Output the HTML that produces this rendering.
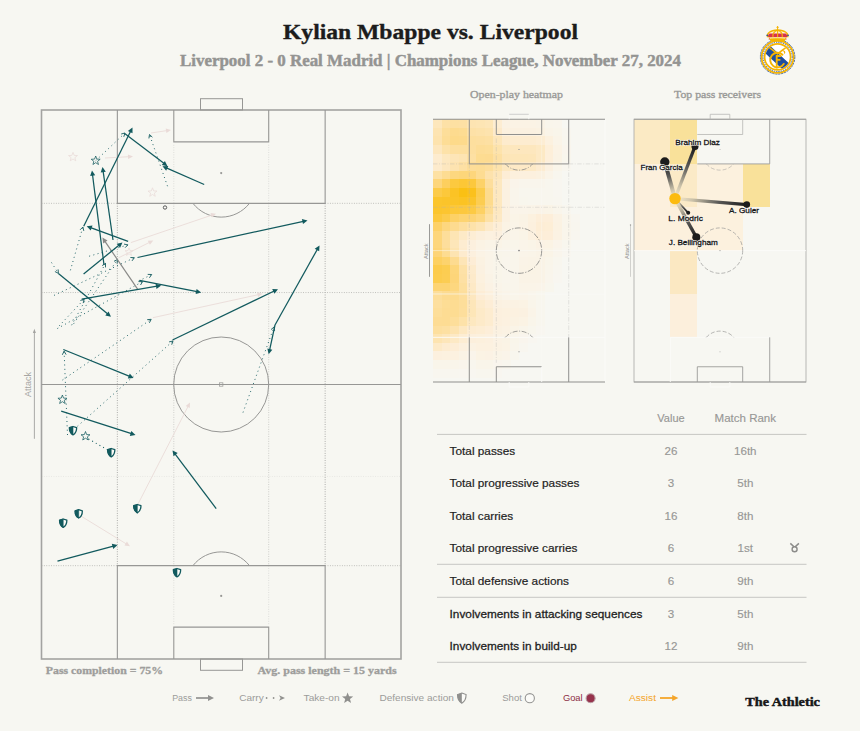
<!DOCTYPE html>
<html><head><meta charset="utf-8"><title>Kylian Mbappe vs. Liverpool</title>
<style>
html,body{margin:0;padding:0;background:#f7f7f2;}
body{width:860px;height:731px;overflow:hidden;position:relative;font-family:"Liberation Sans",sans-serif;}
svg{position:absolute;left:0;top:0;display:block}
text{font-family:"Liberation Sans",sans-serif}
.serif{font-family:"Liberation Serif",serif;font-weight:bold}
.serifr{font-family:"Liberation Serif",serif;font-weight:normal}
</style></head><body>
<svg width="860" height="731" viewBox="0 0 860 731">
<rect width="860" height="731" fill="#f7f7f2"/>

<!--HEADER-->
<text class="serif" x="430.5" y="39.2" font-size="21.5" text-anchor="middle" fill="#1c1c1c" stroke="#1c1c1c" stroke-width="0.35" textLength="295" lengthAdjust="spacingAndGlyphs">Kylian Mbappe vs. Liverpool</text>
<text class="serif" x="430.5" y="65.5" font-size="16.5" text-anchor="middle" fill="#949492" stroke="#949492" stroke-width="0.45" textLength="501" lengthAdjust="spacingAndGlyphs">Liverpool 2 - 0 Real Madrid | Champions League, November 27, 2024</text>
<!--LOGO-->
<g transform="translate(777.6,56.9)">
<circle r="17.2" fill="#ffffff" stroke="#1f4e9e" stroke-width="0.9" stroke-dasharray="2.2 0.8"/>
<circle r="16.0" fill="none" stroke="#f5b301" stroke-width="1.7"/>
<circle r="14.6" fill="none" stroke="#1f4e9e" stroke-width="0.9" stroke-dasharray="1.3 1.0"/>
<circle r="13.0" fill="#ffffff" stroke="#f5b301" stroke-width="1.7"/>
<clipPath id="crc"><circle r="12.2"/></clipPath>
<g clip-path="url(#crc)"><rect x="-20" y="-3.0" width="40" height="8.8" transform="rotate(43)" fill="#1f4e9e"/></g>
<path d="M2.4 -2.6 L9.0 3.6 L10.8 -1 L6 -6.2 Z" fill="#ffffff"/>
<path d="M-8 -9 L-5.8 -7.6 L0 -3.0 L5.8 -7.6 L8 -9" fill="none" stroke="#f5b301" stroke-width="1.6" stroke-linejoin="round"/>
<path d="M4.6 -6.4 C6.8 -6.2 7.8 -4.6 6.6 -3.4" fill="none" stroke="#f5b301" stroke-width="1.2"/>
<path d="M5.4 -4.6 A7.3 7.3 0 1 0 6.6 4.6" fill="none" stroke="#f5b301" stroke-width="1.9" stroke-linecap="round" transform="translate(-0.5,2.4)"/>
<path d="M-0.9 -1.4 V11.6 M-1.7 -0.9 H3.7 M-0.9 3.0 H2.8" fill="none" stroke="#f5b301" stroke-width="1.9"/>
</g>
<path d="M767.6 37.3 C766.2 33 770.2 30.6 777.6 30 C785 30.6 789 33 787.6 37.3 Z" fill="#fdf3d4"/>
<path d="M768.2 37.3 C767.6 35.6 768.2 34.4 769.4 33.5 H785.8 C787 34.4 787.6 35.6 787 37.3 Z" fill="#d8324c"/>
<path d="M767.6 37.3 C766.2 33 770.2 30.6 777.6 30 C785 30.6 789 33 787.6 37.3" fill="none" stroke="#f5b301" stroke-width="1.3"/>
<path d="M777.6 30 V37.3 M777.6 30.2 C773.6 31.4 772.4 33.8 773 37.3 M777.6 30.2 C781.6 31.4 782.8 33.8 782.2 37.3" fill="none" stroke="#f5b301" stroke-width="1.1"/>
<path d="M768.6 37.4 L770.6 41.2 H784.6 L786.6 37.4 Z" fill="#f5b301"/>
<path d="M769.8 38.3 C773 37.6 782.2 37.6 785.4 38.3" stroke="#fff3cf" stroke-width="0.8" fill="none"/>
<path d="M777.6 26 V30.4" stroke="#f5b301" stroke-width="1.0"/>
<path d="M776.4 27.4 H778.8" stroke="#f5b301" stroke-width="0.8"/>
<circle cx="767.2" cy="35.4" r="0.8" fill="#1f4e9e"/><circle cx="788" cy="35.4" r="0.8" fill="#1f4e9e"/>
<circle cx="769.2" cy="39" r="0.6" fill="#d8324c"/><circle cx="786" cy="39" r="0.6" fill="#d8324c"/>
<!--MAINPITCH-->
<line x1="117.35" y1="203.33" x2="117.35" y2="565.67" stroke="#9c9c9a" stroke-width="0.9" stroke-dasharray="0.9 1.5" fill="none"/>
<line x1="325.15" y1="203.33" x2="325.15" y2="565.67" stroke="#9c9c9a" stroke-width="0.9" stroke-dasharray="0.9 1.5" fill="none"/>
<line x1="173.80" y1="203.33" x2="173.80" y2="565.67" stroke="#c6c6c3" stroke-width="0.9" stroke-dasharray="0.9 1.5" fill="none"/>
<line x1="173.80" y1="144.84" x2="173.80" y2="203.33" stroke="#c6c6c3" stroke-width="0.9" stroke-dasharray="0.9 1.5" fill="none" opacity="0.6"/>
<line x1="173.80" y1="565.67" x2="173.80" y2="624.16" stroke="#c6c6c3" stroke-width="0.9" stroke-dasharray="0.9 1.5" fill="none" opacity="0.6"/>
<line x1="268.70" y1="203.33" x2="268.70" y2="565.67" stroke="#c6c6c3" stroke-width="0.9" stroke-dasharray="0.9 1.5" fill="none"/>
<line x1="268.70" y1="144.84" x2="268.70" y2="203.33" stroke="#c6c6c3" stroke-width="0.9" stroke-dasharray="0.9 1.5" fill="none" opacity="0.6"/>
<line x1="268.70" y1="565.67" x2="268.70" y2="624.16" stroke="#c6c6c3" stroke-width="0.9" stroke-dasharray="0.9 1.5" fill="none" opacity="0.6"/>
<line x1="41.5" y1="203.33" x2="117.35" y2="203.33" stroke="#b4b4b1" stroke-width="0.9" stroke-dasharray="0.9 1.5" fill="none"/>
<line x1="325.15" y1="203.33" x2="401.0" y2="203.33" stroke="#b4b4b1" stroke-width="0.9" stroke-dasharray="0.9 1.5" fill="none"/>
<line x1="41.5" y1="565.67" x2="117.35" y2="565.67" stroke="#b4b4b1" stroke-width="0.9" stroke-dasharray="0.9 1.5" fill="none"/>
<line x1="325.15" y1="565.67" x2="401.0" y2="565.67" stroke="#b4b4b1" stroke-width="0.9" stroke-dasharray="0.9 1.5" fill="none"/>
<line x1="41.5" y1="292.54" x2="401.0" y2="292.54" stroke="#b4b4b1" stroke-width="0.9" stroke-dasharray="0.9 1.5" fill="none"/>
<line x1="41.5" y1="476.46" x2="401.0" y2="476.46" stroke="#c6c6c3" stroke-width="0.9" stroke-dasharray="0.9 1.5" fill="none" opacity="0.35"/>
<rect x="41.5" y="110.0" width="359.5" height="549.0" fill="none" stroke="#a3a3a1" stroke-width="1.6"/>
<line x1="41.5" y1="384.5" x2="401.0" y2="384.5" stroke="#979795" stroke-width="1.1"/>
<path d="M117.3545 110.0 V203.33 H325.1455 V110.0" fill="none" stroke="#979795" stroke-width="1.1"/>
<path d="M173.796 110.0 V141.84199999999998 H268.704 V110.0" fill="none" stroke="#979795" stroke-width="1.1"/>
<path d="M117.3545 659.0 V565.67 H325.1455 V659.0" fill="none" stroke="#979795" stroke-width="1.1"/>
<path d="M173.796 659.0 V627.158 H268.704 V659.0" fill="none" stroke="#979795" stroke-width="1.1"/>
<rect x="200.5" y="98.7" width="42" height="11.3" fill="none" stroke="#979795" stroke-width="1"/>
<rect x="200.5" y="659" width="42" height="11.3" fill="none" stroke="#979795" stroke-width="1"/>
<circle cx="221.2" cy="384.5" r="47.5" fill="none" stroke="#979795" stroke-width="1"/>
<rect x="219.5" y="382.8" width="3.4" height="3.4" fill="none" stroke="#979795" stroke-width="0.7"/>
<circle cx="221.2" cy="173.1" r="1.1" fill="#979795"/>
<circle cx="221.2" cy="595.9" r="1.1" fill="#979795"/>
<path d="M192.9 203.3 A35.9 35.9 0 0 0 249.5 203.3" fill="none" stroke="#979795" stroke-width="1"/>
<path d="M192.9 565.7 A35.9 35.9 0 0 1 249.5 565.7" fill="none" stroke="#979795" stroke-width="1"/>
<line x1="34.4" y1="438.8" x2="34.4" y2="331" stroke="#a2a29f" stroke-width="0.9"/>
<path d="M34.4 328.8 L32.9 333 L35.9 333 Z" fill="#a2a29f"/>
<text x="31.2" y="384.5" font-size="8.6" fill="#a6a6a3" text-anchor="middle" transform="rotate(-90 31.2 384.5)" textLength="24.8" lengthAdjust="spacingAndGlyphs">Attack</text>
<!--EVENTS-->
<g><line x1="151.0" y1="133.0" x2="167.0" y2="130.6" stroke="#eadbd8" stroke-width="0.9"/><path d="M171.0 130.0 L166.4 133.0 L165.7 128.5 Z" fill="#eadbd8"/></g>
<g><line x1="105.0" y1="158.0" x2="129.0" y2="156.7" stroke="#eadbd8" stroke-width="0.9"/><path d="M133.0 156.5 L128.1 159.1 L127.9 154.5 Z" fill="#eadbd8"/></g>
<g><line x1="130.9" y1="242.6" x2="212.2" y2="215.0" stroke="#eadbd8" stroke-width="0.9"/><path d="M216.0 213.7 L212.0 217.5 L210.5 213.1 Z" fill="#eadbd8"/></g>
<g><line x1="118.4" y1="257.9" x2="149.7" y2="242.3" stroke="#eadbd8" stroke-width="0.9"/><path d="M153.3 240.5 L149.9 244.8 L147.8 240.7 Z" fill="#eadbd8"/></g>
<g><line x1="152.9" y1="317.7" x2="258.6" y2="294.6" stroke="#eadbd8" stroke-width="0.9"/><path d="M262.5 293.7 L258.1 297.0 L257.1 292.5 Z" fill="#eadbd8"/></g>
<g><line x1="137.5" y1="505.0" x2="188.2" y2="406.1" stroke="#eadbd8" stroke-width="0.9"/><path d="M190.0 402.5 L189.8 408.0 L185.7 405.9 Z" fill="#eadbd8"/></g>
<g><line x1="81.2" y1="516.2" x2="126.6" y2="544.1" stroke="#eadbd8" stroke-width="0.9"/><path d="M130.0 546.2 L124.5 545.5 L126.9 541.6 Z" fill="#eadbd8"/></g>
<polygon points="73.00,152.30 74.16,155.40 77.47,155.55 74.88,157.61 75.76,160.80 73.00,158.97 70.24,160.80 71.12,157.61 68.53,155.55 71.84,155.40" fill="none" stroke="#eadbd8" stroke-width="0.75" stroke-linejoin="miter"/>
<polygon points="152.50,187.80 153.66,190.90 156.97,191.05 154.38,193.11 155.26,196.30 152.50,194.47 149.74,196.30 150.62,193.11 148.03,191.05 151.34,190.90" fill="none" stroke="#eadbd8" stroke-width="0.75" stroke-linejoin="miter"/>
<polygon points="129.00,247.80 130.04,250.57 132.99,250.70 130.68,252.55 131.47,255.40 129.00,253.76 126.53,255.40 127.32,252.55 125.01,250.70 127.96,250.57" fill="none" stroke="#eadbd8" stroke-width="0.75" stroke-linejoin="miter"/>
<g fill="none" stroke="#125a5e"><line x1="95.7" y1="160.7" x2="125.0" y2="133.0" stroke-width="0.95" stroke-dasharray="0.95 3.4" stroke-linecap="butt"/><path d="M123.8 136.8 L125.0 133.0 L121.2 134.0" stroke-width="0.9"/></g>
<g fill="none" stroke="#125a5e"><line x1="167.5" y1="186.2" x2="149.5" y2="134.5" stroke-width="0.95" stroke-dasharray="0.95 3.4" stroke-linecap="butt"/><path d="M152.4 137.2 L149.5 134.5 L148.9 138.4" stroke-width="0.9"/></g>
<g fill="none" stroke="#125a5e"><line x1="51.5" y1="262.5" x2="58.4" y2="273.4" stroke-width="0.95" stroke-dasharray="0.95 3.4" stroke-linecap="butt"/><path d="M54.9 271.5 L58.4 273.4 L58.1 269.4" stroke-width="0.9"/></g>
<g fill="none" stroke="#125a5e"><line x1="70.4" y1="270.3" x2="82.9" y2="227.0" stroke-width="0.95" stroke-dasharray="0.95 3.4" stroke-linecap="butt"/><path d="M83.8 230.9 L82.9 227.0 L80.1 229.8" stroke-width="0.9"/></g>
<g fill="none" stroke="#125a5e"><line x1="54.0" y1="295.4" x2="134.4" y2="257.7" stroke-width="0.95" stroke-dasharray="0.95 3.4" stroke-linecap="butt"/><path d="M132.0 260.9 L134.4 257.7 L130.4 257.5" stroke-width="0.9"/></g>
<g fill="none" stroke="#125a5e"><line x1="89.2" y1="256.2" x2="127.9" y2="244.9" stroke-width="0.95" stroke-dasharray="0.95 3.4" stroke-linecap="butt"/><path d="M125.1 247.7 L127.9 244.9 L124.0 244.1" stroke-width="0.9"/></g>
<g fill="none" stroke="#125a5e"><line x1="59.1" y1="326.0" x2="84.2" y2="299.2" stroke-width="0.95" stroke-dasharray="0.95 3.4" stroke-linecap="butt"/><path d="M83.2 303.1 L84.2 299.2 L80.4 300.5" stroke-width="0.9"/></g>
<g fill="none" stroke="#125a5e"><line x1="71.6" y1="325.2" x2="105.5" y2="263.4" stroke-width="0.95" stroke-dasharray="0.95 3.4" stroke-linecap="butt"/><path d="M105.5 267.4 L105.5 263.4 L102.2 265.6" stroke-width="0.9"/></g>
<g fill="none" stroke="#125a5e"><line x1="73.7" y1="323.7" x2="117.5" y2="259.5" stroke-width="0.95" stroke-dasharray="0.95 3.4" stroke-linecap="butt"/><path d="M117.1 263.5 L117.5 259.5 L114.0 261.3" stroke-width="0.9"/></g>
<g fill="none" stroke="#125a5e"><line x1="57.4" y1="328.5" x2="142.6" y2="281.6" stroke-width="0.95" stroke-dasharray="0.95 3.4" stroke-linecap="butt"/><path d="M140.5 285.0 L142.6 281.6 L138.6 281.6" stroke-width="0.9"/></g>
<g fill="none" stroke="#125a5e"><line x1="138.7" y1="281.0" x2="151.7" y2="274.5" stroke-width="0.95" stroke-dasharray="0.95 3.4" stroke-linecap="butt"/><path d="M149.4 277.8 L151.7 274.5 L147.7 274.4" stroke-width="0.9"/></g>
<g fill="none" stroke="#125a5e"><line x1="62.5" y1="380.0" x2="151.2" y2="319.3" stroke-width="0.95" stroke-dasharray="0.95 3.4" stroke-linecap="butt"/><path d="M149.4 322.8 L151.2 319.3 L147.2 319.7" stroke-width="0.9"/></g>
<g fill="none" stroke="#125a5e"><line x1="77.5" y1="426.2" x2="173.0" y2="341.0" stroke-width="0.95" stroke-dasharray="0.95 3.4" stroke-linecap="butt"/><path d="M171.7 344.7 L173.0 341.0 L169.1 341.9" stroke-width="0.9"/></g>
<g fill="none" stroke="#125a5e"><line x1="67.5" y1="435.0" x2="64.1" y2="351.2" stroke-width="0.95" stroke-dasharray="0.95 3.4" stroke-linecap="butt"/><path d="M66.1 354.6 L64.1 351.2 L62.3 354.8" stroke-width="0.9"/></g>
<g fill="none" stroke="#125a5e"><line x1="243.0" y1="412.5" x2="274.0" y2="327.0" stroke-width="0.95" stroke-dasharray="0.95 3.4" stroke-linecap="butt"/><path d="M274.6 330.9 L274.0 327.0 L271.0 329.6" stroke-width="0.9"/></g>
<line x1="88.5" y1="439" x2="107" y2="449.5" stroke="#125a5e" stroke-width="1.05" stroke-dasharray="1.0 3.2"/>
<g><line x1="137.6" y1="289.1" x2="104.8" y2="241.1" stroke="#8a8a88" stroke-width="1.2"/><path d="M102.4 237.6 L107.5 240.4 L103.2 243.4 Z" fill="#8a8a88"/></g>
<g><line x1="83.7" y1="226.2" x2="130.6" y2="131.3" stroke="#125a5e" stroke-width="1.25"/><path d="M132.5 127.5 L132.5 133.3 L127.9 131.0 Z" fill="#125a5e"/></g>
<g><line x1="125.0" y1="133.7" x2="164.2" y2="163.6" stroke="#125a5e" stroke-width="1.25"/><path d="M167.5 166.2 L161.8 165.1 L164.9 161.0 Z" fill="#125a5e"/></g>
<g><line x1="204.2" y1="184.5" x2="166.3" y2="167.9" stroke="#125a5e" stroke-width="1.25"/><path d="M162.5 166.2 L168.3 165.9 L166.2 170.7 Z" fill="#125a5e"/></g>
<g><line x1="104.0" y1="265.0" x2="92.5" y2="174.7" stroke="#125a5e" stroke-width="1.25"/><path d="M92.0 170.5 L95.2 175.3 L90.1 176.0 Z" fill="#125a5e"/></g>
<g><line x1="113.0" y1="240.0" x2="103.1" y2="171.2" stroke="#125a5e" stroke-width="1.25"/><path d="M102.5 167.0 L105.8 171.8 L100.7 172.5 Z" fill="#125a5e"/></g>
<g><line x1="128.1" y1="241.4" x2="90.6" y2="227.7" stroke="#125a5e" stroke-width="1.25"/><path d="M86.7 226.3 L92.5 225.6 L90.7 230.5 Z" fill="#125a5e"/></g>
<g><line x1="137.5" y1="257.5" x2="303.4" y2="221.4" stroke="#125a5e" stroke-width="1.25"/><path d="M307.5 220.5 L303.0 224.1 L301.9 219.1 Z" fill="#125a5e"/></g>
<g><line x1="83.6" y1="274.0" x2="119.2" y2="245.0" stroke="#125a5e" stroke-width="1.25"/><path d="M122.5 242.4 L120.1 247.7 L116.8 243.7 Z" fill="#125a5e"/></g>
<g><line x1="58.4" y1="273.4" x2="107.8" y2="314.1" stroke="#125a5e" stroke-width="1.25"/><path d="M111.0 316.8 L105.3 315.5 L108.6 311.5 Z" fill="#125a5e"/></g>
<g><line x1="81.7" y1="299.2" x2="157.1" y2="286.2" stroke="#125a5e" stroke-width="1.25"/><path d="M161.2 285.5 L156.5 288.9 L155.6 283.8 Z" fill="#125a5e"/></g>
<g><line x1="139.5" y1="280.3" x2="197.1" y2="291.7" stroke="#125a5e" stroke-width="1.25"/><path d="M201.2 292.5 L195.6 294.0 L196.6 288.9 Z" fill="#125a5e"/></g>
<g><line x1="172.5" y1="340.0" x2="274.2" y2="291.0" stroke="#125a5e" stroke-width="1.25"/><path d="M278.0 289.2 L274.4 293.8 L272.2 289.1 Z" fill="#125a5e"/></g>
<g><line x1="275.0" y1="325.0" x2="317.4" y2="249.2" stroke="#125a5e" stroke-width="1.25"/><path d="M319.5 245.5 L319.2 251.3 L314.7 248.8 Z" fill="#125a5e"/></g>
<g><line x1="275.0" y1="325.0" x2="269.6" y2="350.1" stroke="#125a5e" stroke-width="1.25"/><path d="M268.7 354.2 L267.3 348.6 L272.3 349.7 Z" fill="#125a5e"/></g>
<g><line x1="63.3" y1="349.5" x2="129.7" y2="376.4" stroke="#125a5e" stroke-width="1.25"/><path d="M133.6 378.0 L127.8 378.5 L129.8 373.6 Z" fill="#125a5e"/></g>
<g><line x1="61.2" y1="411.2" x2="131.5" y2="433.7" stroke="#125a5e" stroke-width="1.25"/><path d="M135.5 435.0 L129.8 435.9 L131.3 430.9 Z" fill="#125a5e"/></g>
<g><line x1="216.2" y1="508.7" x2="175.0" y2="453.9" stroke="#125a5e" stroke-width="1.25"/><path d="M172.5 450.5 L177.7 453.1 L173.5 456.2 Z" fill="#125a5e"/></g>
<g><line x1="57.5" y1="561.2" x2="113.4" y2="546.1" stroke="#125a5e" stroke-width="1.25"/><path d="M117.5 545.0 L113.2 548.9 L111.8 543.8 Z" fill="#125a5e"/></g>
<polygon points="95.70,156.00 96.86,159.10 100.17,159.25 97.58,161.31 98.46,164.50 95.70,162.67 92.94,164.50 93.82,161.31 91.23,159.25 94.54,159.10" fill="none" stroke="#125a5e" stroke-width="0.75" stroke-linejoin="miter"/>
<polygon points="62.40,395.00 63.56,398.10 66.87,398.25 64.28,400.31 65.16,403.50 62.40,401.67 59.64,403.50 60.52,400.31 57.93,398.25 61.24,398.10" fill="none" stroke="#125a5e" stroke-width="0.75" stroke-linejoin="miter"/>
<polygon points="85.50,431.50 86.66,434.60 89.97,434.75 87.38,436.81 88.26,440.00 85.50,438.17 82.74,440.00 83.62,436.81 81.03,434.75 84.34,434.60" fill="none" stroke="#125a5e" stroke-width="0.75" stroke-linejoin="miter"/>
<path d="M73.00 426.50 L76.65 427.72 C76.65 431.81 74.91 433.81 73.00 434.85 C71.09 433.81 69.35 431.81 69.35 427.72 Z" fill="#fbfbf8" stroke="#125a5e" stroke-width="1.3" stroke-linejoin="round"/><path d="M73.00 426.50 L73.00 434.85 C71.09 433.81 69.35 431.81 69.35 427.72 Z" fill="#125a5e" stroke="#125a5e" stroke-width="0.6"/>
<path d="M111.20 448.50 L114.85 449.72 C114.85 453.81 113.11 455.81 111.20 456.85 C109.29 455.81 107.55 453.81 107.55 449.72 Z" fill="#fbfbf8" stroke="#125a5e" stroke-width="1.3" stroke-linejoin="round"/><path d="M111.20 448.50 L111.20 456.85 C109.29 455.81 107.55 453.81 107.55 449.72 Z" fill="#125a5e" stroke="#125a5e" stroke-width="0.6"/>
<path d="M137.30 504.50 L140.95 505.72 C140.95 509.81 139.21 511.81 137.30 512.85 C135.39 511.81 133.65 509.81 133.65 505.72 Z" fill="#fbfbf8" stroke="#125a5e" stroke-width="1.3" stroke-linejoin="round"/><path d="M137.30 504.50 L137.30 512.85 C135.39 511.81 133.65 509.81 133.65 505.72 Z" fill="#125a5e" stroke="#125a5e" stroke-width="0.6"/>
<path d="M78.70 509.70 L82.35 510.92 C82.35 515.00 80.61 517.01 78.70 518.05 C76.79 517.01 75.05 515.00 75.05 510.92 Z" fill="#fbfbf8" stroke="#125a5e" stroke-width="1.3" stroke-linejoin="round"/><path d="M78.70 509.70 L78.70 518.05 C76.79 517.01 75.05 515.00 75.05 510.92 Z" fill="#125a5e" stroke="#125a5e" stroke-width="0.6"/>
<path d="M63.20 519.00 L66.85 520.22 C66.85 524.30 65.11 526.31 63.20 527.35 C61.29 526.31 59.55 524.30 59.55 520.22 Z" fill="#fbfbf8" stroke="#125a5e" stroke-width="1.3" stroke-linejoin="round"/><path d="M63.20 519.00 L63.20 527.35 C61.29 526.31 59.55 524.30 59.55 520.22 Z" fill="#125a5e" stroke="#125a5e" stroke-width="0.6"/>
<path d="M177.00 568.50 L180.65 569.72 C180.65 573.80 178.91 575.81 177.00 576.85 C175.09 575.81 173.35 573.80 173.35 569.72 Z" fill="#fbfbf8" stroke="#125a5e" stroke-width="1.3" stroke-linejoin="round"/><path d="M177.00 568.50 L177.00 576.85 C175.09 575.81 173.35 573.80 173.35 569.72 Z" fill="#125a5e" stroke="#125a5e" stroke-width="0.6"/>
<circle cx="165" cy="207.5" r="1.7" fill="#fbfbf8" stroke="#333" stroke-width="0.8"/>
<!--/EVENTS-->
<!--HEATMAP-->
<clipPath id="hclip"><rect x="433.0" y="119.25" width="172.0" height="262.75"/></clipPath>
<g clip-path="url(#hclip)" shape-rendering="crispEdges">
<rect x="433.00" y="119.25" width="8.90" height="8.90" fill="rgb(253, 231, 188)"/>
<rect x="441.60" y="119.25" width="8.90" height="8.90" fill="rgb(253, 225, 167)"/>
<rect x="450.20" y="119.25" width="8.90" height="8.90" fill="rgb(253, 224, 162)"/>
<rect x="458.80" y="119.25" width="8.90" height="8.90" fill="rgb(253, 224, 164)"/>
<rect x="467.40" y="119.25" width="8.90" height="8.90" fill="rgb(253, 228, 178)"/>
<rect x="476.00" y="119.25" width="8.90" height="8.90" fill="rgb(253, 229, 180)"/>
<rect x="484.60" y="119.25" width="8.90" height="8.90" fill="rgb(253, 230, 184)"/>
<rect x="493.20" y="119.25" width="8.90" height="8.90" fill="rgb(253, 237, 210)"/>
<rect x="501.80" y="119.25" width="8.90" height="8.90" fill="rgb(251, 242, 227)"/>
<rect x="510.40" y="119.25" width="8.90" height="8.90" fill="rgb(251, 243, 229)"/>
<rect x="519.00" y="119.25" width="8.90" height="8.90" fill="rgb(251, 243, 229)"/>
<rect x="527.60" y="119.25" width="8.90" height="8.90" fill="rgb(251, 243, 229)"/>
<rect x="536.20" y="119.25" width="8.90" height="8.90" fill="rgb(250, 243, 230)"/>
<rect x="544.80" y="119.25" width="8.90" height="8.90" fill="rgb(249, 245, 235)"/>
<rect x="553.40" y="119.25" width="8.90" height="8.90" fill="rgb(249, 245, 236)"/>
<rect x="433.00" y="127.85" width="8.90" height="8.90" fill="rgb(253, 228, 178)"/>
<rect x="441.60" y="127.85" width="8.90" height="8.90" fill="rgb(253, 222, 154)"/>
<rect x="450.20" y="127.85" width="8.90" height="8.90" fill="rgb(253, 219, 143)"/>
<rect x="458.80" y="127.85" width="8.90" height="8.90" fill="rgb(253, 220, 146)"/>
<rect x="467.40" y="127.85" width="8.90" height="8.90" fill="rgb(253, 225, 167)"/>
<rect x="476.00" y="127.85" width="8.90" height="8.90" fill="rgb(253, 226, 170)"/>
<rect x="484.60" y="127.85" width="8.90" height="8.90" fill="rgb(253, 227, 174)"/>
<rect x="493.20" y="127.85" width="8.90" height="8.90" fill="rgb(253, 234, 203)"/>
<rect x="501.80" y="127.85" width="8.90" height="8.90" fill="rgb(252, 241, 223)"/>
<rect x="510.40" y="127.85" width="8.90" height="8.90" fill="rgb(251, 241, 225)"/>
<rect x="519.00" y="127.85" width="8.90" height="8.90" fill="rgb(251, 241, 225)"/>
<rect x="527.60" y="127.85" width="8.90" height="8.90" fill="rgb(251, 241, 225)"/>
<rect x="536.20" y="127.85" width="8.90" height="8.90" fill="rgb(251, 242, 226)"/>
<rect x="544.80" y="127.85" width="8.90" height="8.90" fill="rgb(250, 244, 232)"/>
<rect x="553.40" y="127.85" width="8.90" height="8.90" fill="rgb(249, 245, 234)"/>
<rect x="562.00" y="127.85" width="8.90" height="8.90" fill="rgb(248, 246, 239)"/>
<rect x="433.00" y="136.45" width="8.90" height="8.90" fill="rgb(253, 227, 174)"/>
<rect x="441.60" y="136.45" width="8.90" height="8.90" fill="rgb(253, 221, 150)"/>
<rect x="450.20" y="136.45" width="8.90" height="8.90" fill="rgb(253, 218, 138)"/>
<rect x="458.80" y="136.45" width="8.90" height="8.90" fill="rgb(253, 218, 140)"/>
<rect x="467.40" y="136.45" width="8.90" height="8.90" fill="rgb(253, 223, 158)"/>
<rect x="476.00" y="136.45" width="8.90" height="8.90" fill="rgb(253, 223, 160)"/>
<rect x="484.60" y="136.45" width="8.90" height="8.90" fill="rgb(253, 224, 163)"/>
<rect x="493.20" y="136.45" width="8.90" height="8.90" fill="rgb(253, 230, 186)"/>
<rect x="501.80" y="136.45" width="8.90" height="8.90" fill="rgb(253, 235, 205)"/>
<rect x="510.40" y="136.45" width="8.90" height="8.90" fill="rgb(253, 236, 208)"/>
<rect x="519.00" y="136.45" width="8.90" height="8.90" fill="rgb(253, 236, 208)"/>
<rect x="527.60" y="136.45" width="8.90" height="8.90" fill="rgb(253, 236, 208)"/>
<rect x="536.20" y="136.45" width="8.90" height="8.90" fill="rgb(253, 237, 211)"/>
<rect x="544.80" y="136.45" width="8.90" height="8.90" fill="rgb(252, 241, 223)"/>
<rect x="553.40" y="136.45" width="8.90" height="8.90" fill="rgb(250, 244, 232)"/>
<rect x="562.00" y="136.45" width="8.90" height="8.90" fill="rgb(248, 246, 238)"/>
<rect x="433.00" y="145.05" width="8.90" height="8.90" fill="rgb(253, 231, 190)"/>
<rect x="441.60" y="145.05" width="8.90" height="8.90" fill="rgb(253, 226, 169)"/>
<rect x="450.20" y="145.05" width="8.90" height="8.90" fill="rgb(253, 223, 159)"/>
<rect x="458.80" y="145.05" width="8.90" height="8.90" fill="rgb(253, 223, 158)"/>
<rect x="467.40" y="145.05" width="8.90" height="8.90" fill="rgb(253, 223, 159)"/>
<rect x="476.00" y="145.05" width="8.90" height="8.90" fill="rgb(253, 221, 151)"/>
<rect x="484.60" y="145.05" width="8.90" height="8.90" fill="rgb(253, 222, 153)"/>
<rect x="493.20" y="145.05" width="8.90" height="8.90" fill="rgb(253, 227, 172)"/>
<rect x="501.80" y="145.05" width="8.90" height="8.90" fill="rgb(253, 231, 188)"/>
<rect x="510.40" y="145.05" width="8.90" height="8.90" fill="rgb(253, 231, 190)"/>
<rect x="519.00" y="145.05" width="8.90" height="8.90" fill="rgb(253, 231, 190)"/>
<rect x="527.60" y="145.05" width="8.90" height="8.90" fill="rgb(253, 231, 190)"/>
<rect x="536.20" y="145.05" width="8.90" height="8.90" fill="rgb(253, 233, 196)"/>
<rect x="544.80" y="145.05" width="8.90" height="8.90" fill="rgb(253, 239, 217)"/>
<rect x="553.40" y="145.05" width="8.90" height="8.90" fill="rgb(251, 243, 229)"/>
<rect x="562.00" y="145.05" width="8.90" height="8.90" fill="rgb(249, 245, 237)"/>
<rect x="433.00" y="153.65" width="8.90" height="8.90" fill="rgb(253, 236, 207)"/>
<rect x="441.60" y="153.65" width="8.90" height="8.90" fill="rgb(253, 232, 192)"/>
<rect x="450.20" y="153.65" width="8.90" height="8.90" fill="rgb(253, 229, 183)"/>
<rect x="458.80" y="153.65" width="8.90" height="8.90" fill="rgb(253, 228, 178)"/>
<rect x="467.40" y="153.65" width="8.90" height="8.90" fill="rgb(253, 224, 163)"/>
<rect x="476.00" y="153.65" width="8.90" height="8.90" fill="rgb(253, 220, 145)"/>
<rect x="484.60" y="153.65" width="8.90" height="8.90" fill="rgb(253, 219, 145)"/>
<rect x="493.20" y="153.65" width="8.90" height="8.90" fill="rgb(253, 224, 163)"/>
<rect x="501.80" y="153.65" width="8.90" height="8.90" fill="rgb(253, 229, 182)"/>
<rect x="510.40" y="153.65" width="8.90" height="8.90" fill="rgb(253, 230, 184)"/>
<rect x="519.00" y="153.65" width="8.90" height="8.90" fill="rgb(253, 230, 184)"/>
<rect x="527.60" y="153.65" width="8.90" height="8.90" fill="rgb(253, 230, 185)"/>
<rect x="536.20" y="153.65" width="8.90" height="8.90" fill="rgb(253, 233, 196)"/>
<rect x="544.80" y="153.65" width="8.90" height="8.90" fill="rgb(253, 239, 218)"/>
<rect x="553.40" y="153.65" width="8.90" height="8.90" fill="rgb(250, 243, 229)"/>
<rect x="562.00" y="153.65" width="8.90" height="8.90" fill="rgb(248, 246, 237)"/>
<rect x="433.00" y="162.25" width="8.90" height="8.90" fill="rgb(253, 235, 204)"/>
<rect x="441.60" y="162.25" width="8.90" height="8.90" fill="rgb(253, 231, 191)"/>
<rect x="450.20" y="162.25" width="8.90" height="8.90" fill="rgb(253, 227, 176)"/>
<rect x="458.80" y="162.25" width="8.90" height="8.90" fill="rgb(253, 224, 164)"/>
<rect x="467.40" y="162.25" width="8.90" height="8.90" fill="rgb(253, 221, 152)"/>
<rect x="476.00" y="162.25" width="8.90" height="8.90" fill="rgb(253, 221, 149)"/>
<rect x="484.60" y="162.25" width="8.90" height="8.90" fill="rgb(253, 222, 155)"/>
<rect x="493.20" y="162.25" width="8.90" height="8.90" fill="rgb(253, 227, 172)"/>
<rect x="501.80" y="162.25" width="8.90" height="8.90" fill="rgb(253, 232, 193)"/>
<rect x="510.40" y="162.25" width="8.90" height="8.90" fill="rgb(253, 233, 198)"/>
<rect x="519.00" y="162.25" width="8.90" height="8.90" fill="rgb(253, 233, 198)"/>
<rect x="527.60" y="162.25" width="8.90" height="8.90" fill="rgb(253, 234, 199)"/>
<rect x="536.20" y="162.25" width="8.90" height="8.90" fill="rgb(253, 236, 209)"/>
<rect x="544.80" y="162.25" width="8.90" height="8.90" fill="rgb(251, 241, 225)"/>
<rect x="553.40" y="162.25" width="8.90" height="8.90" fill="rgb(249, 245, 234)"/>
<rect x="562.00" y="162.25" width="8.90" height="8.90" fill="rgb(248, 246, 239)"/>
<rect x="433.00" y="170.85" width="8.90" height="8.90" fill="rgb(253, 225, 164)"/>
<rect x="441.60" y="170.85" width="8.90" height="8.90" fill="rgb(253, 220, 146)"/>
<rect x="450.20" y="170.85" width="8.90" height="8.90" fill="rgb(253, 215, 127)"/>
<rect x="458.80" y="170.85" width="8.90" height="8.90" fill="rgb(253, 214, 122)"/>
<rect x="467.40" y="170.85" width="8.90" height="8.90" fill="rgb(253, 214, 124)"/>
<rect x="476.00" y="170.85" width="8.90" height="8.90" fill="rgb(253, 220, 146)"/>
<rect x="484.60" y="170.85" width="8.90" height="8.90" fill="rgb(253, 226, 172)"/>
<rect x="493.20" y="170.85" width="8.90" height="8.90" fill="rgb(253, 230, 186)"/>
<rect x="501.80" y="170.85" width="8.90" height="8.90" fill="rgb(253, 237, 213)"/>
<rect x="510.40" y="170.85" width="8.90" height="8.90" fill="rgb(252, 240, 221)"/>
<rect x="519.00" y="170.85" width="8.90" height="8.90" fill="rgb(252, 240, 222)"/>
<rect x="527.60" y="170.85" width="8.90" height="8.90" fill="rgb(252, 240, 222)"/>
<rect x="536.20" y="170.85" width="8.90" height="8.90" fill="rgb(251, 241, 224)"/>
<rect x="544.80" y="170.85" width="8.90" height="8.90" fill="rgb(250, 244, 232)"/>
<rect x="553.40" y="170.85" width="8.90" height="8.90" fill="rgb(248, 246, 238)"/>
<rect x="433.00" y="179.45" width="8.90" height="8.90" fill="rgb(253, 214, 124)"/>
<rect x="441.60" y="179.45" width="8.90" height="8.90" fill="rgb(253, 207, 94)"/>
<rect x="450.20" y="179.45" width="8.90" height="8.90" fill="rgb(252, 201, 63)"/>
<rect x="458.80" y="179.45" width="8.90" height="8.90" fill="rgb(252, 199, 54)"/>
<rect x="467.40" y="179.45" width="8.90" height="8.90" fill="rgb(252, 200, 61)"/>
<rect x="476.00" y="179.45" width="8.90" height="8.90" fill="rgb(253, 210, 104)"/>
<rect x="484.60" y="179.45" width="8.90" height="8.90" fill="rgb(253, 222, 156)"/>
<rect x="493.20" y="179.45" width="8.90" height="8.90" fill="rgb(253, 232, 192)"/>
<rect x="501.80" y="179.45" width="8.90" height="8.90" fill="rgb(252, 241, 224)"/>
<rect x="510.40" y="179.45" width="8.90" height="8.90" fill="rgb(250, 244, 234)"/>
<rect x="519.00" y="179.45" width="8.90" height="8.90" fill="rgb(249, 245, 236)"/>
<rect x="527.60" y="179.45" width="8.90" height="8.90" fill="rgb(249, 245, 236)"/>
<rect x="536.20" y="179.45" width="8.90" height="8.90" fill="rgb(249, 245, 236)"/>
<rect x="544.80" y="179.45" width="8.90" height="8.90" fill="rgb(248, 246, 238)"/>
<rect x="553.40" y="179.45" width="8.90" height="8.90" fill="rgb(248, 246, 240)"/>
<rect x="433.00" y="188.05" width="8.90" height="8.90" fill="rgb(252, 203, 73)"/>
<rect x="441.60" y="188.05" width="8.90" height="8.90" fill="rgb(252, 200, 59)"/>
<rect x="450.20" y="188.05" width="8.90" height="8.90" fill="rgb(251, 195, 37)"/>
<rect x="458.80" y="188.05" width="8.90" height="8.90" fill="rgb(250, 192, 20)"/>
<rect x="467.40" y="188.05" width="8.90" height="8.90" fill="rgb(251, 193, 28)"/>
<rect x="476.00" y="188.05" width="8.90" height="8.90" fill="rgb(252, 204, 76)"/>
<rect x="484.60" y="188.05" width="8.90" height="8.90" fill="rgb(253, 219, 142)"/>
<rect x="493.20" y="188.05" width="8.90" height="8.90" fill="rgb(253, 232, 192)"/>
<rect x="501.80" y="188.05" width="8.90" height="8.90" fill="rgb(251, 241, 225)"/>
<rect x="510.40" y="188.05" width="8.90" height="8.90" fill="rgb(249, 245, 235)"/>
<rect x="519.00" y="188.05" width="8.90" height="8.90" fill="rgb(248, 246, 238)"/>
<rect x="527.60" y="188.05" width="8.90" height="8.90" fill="rgb(248, 246, 238)"/>
<rect x="536.20" y="188.05" width="8.90" height="8.90" fill="rgb(248, 246, 238)"/>
<rect x="544.80" y="188.05" width="8.90" height="8.90" fill="rgb(248, 246, 238)"/>
<rect x="553.40" y="188.05" width="8.90" height="8.90" fill="rgb(248, 246, 240)"/>
<rect x="433.00" y="196.65" width="8.90" height="8.90" fill="rgb(251, 197, 44)"/>
<rect x="441.60" y="196.65" width="8.90" height="8.90" fill="rgb(251, 196, 42)"/>
<rect x="450.20" y="196.65" width="8.90" height="8.90" fill="rgb(251, 196, 40)"/>
<rect x="458.80" y="196.65" width="8.90" height="8.90" fill="rgb(251, 195, 35)"/>
<rect x="467.40" y="196.65" width="8.90" height="8.90" fill="rgb(251, 196, 42)"/>
<rect x="476.00" y="196.65" width="8.90" height="8.90" fill="rgb(252, 205, 82)"/>
<rect x="484.60" y="196.65" width="8.90" height="8.90" fill="rgb(253, 219, 141)"/>
<rect x="493.20" y="196.65" width="8.90" height="8.90" fill="rgb(253, 232, 192)"/>
<rect x="501.80" y="196.65" width="8.90" height="8.90" fill="rgb(251, 241, 225)"/>
<rect x="510.40" y="196.65" width="8.90" height="8.90" fill="rgb(249, 245, 235)"/>
<rect x="519.00" y="196.65" width="8.90" height="8.90" fill="rgb(248, 246, 237)"/>
<rect x="527.60" y="196.65" width="8.90" height="8.90" fill="rgb(248, 246, 238)"/>
<rect x="536.20" y="196.65" width="8.90" height="8.90" fill="rgb(248, 246, 238)"/>
<rect x="544.80" y="196.65" width="8.90" height="8.90" fill="rgb(248, 246, 238)"/>
<rect x="553.40" y="196.65" width="8.90" height="8.90" fill="rgb(248, 246, 239)"/>
<rect x="433.00" y="205.25" width="8.90" height="8.90" fill="rgb(251, 197, 45)"/>
<rect x="441.60" y="205.25" width="8.90" height="8.90" fill="rgb(252, 197, 48)"/>
<rect x="450.20" y="205.25" width="8.90" height="8.90" fill="rgb(252, 200, 58)"/>
<rect x="458.80" y="205.25" width="8.90" height="8.90" fill="rgb(252, 200, 62)"/>
<rect x="467.40" y="205.25" width="8.90" height="8.90" fill="rgb(252, 202, 68)"/>
<rect x="476.00" y="205.25" width="8.90" height="8.90" fill="rgb(253, 209, 100)"/>
<rect x="484.60" y="205.25" width="8.90" height="8.90" fill="rgb(253, 221, 150)"/>
<rect x="493.20" y="205.25" width="8.90" height="8.90" fill="rgb(253, 232, 193)"/>
<rect x="501.80" y="205.25" width="8.90" height="8.90" fill="rgb(251, 241, 225)"/>
<rect x="510.40" y="205.25" width="8.90" height="8.90" fill="rgb(250, 244, 233)"/>
<rect x="519.00" y="205.25" width="8.90" height="8.90" fill="rgb(250, 244, 233)"/>
<rect x="527.60" y="205.25" width="8.90" height="8.90" fill="rgb(250, 244, 232)"/>
<rect x="536.20" y="205.25" width="8.90" height="8.90" fill="rgb(250, 243, 231)"/>
<rect x="544.80" y="205.25" width="8.90" height="8.90" fill="rgb(250, 244, 231)"/>
<rect x="553.40" y="205.25" width="8.90" height="8.90" fill="rgb(249, 245, 235)"/>
<rect x="562.00" y="205.25" width="8.90" height="8.90" fill="rgb(248, 246, 239)"/>
<rect x="433.00" y="213.85" width="8.90" height="8.90" fill="rgb(252, 200, 60)"/>
<rect x="441.60" y="213.85" width="8.90" height="8.90" fill="rgb(252, 203, 75)"/>
<rect x="450.20" y="213.85" width="8.90" height="8.90" fill="rgb(253, 209, 102)"/>
<rect x="458.80" y="213.85" width="8.90" height="8.90" fill="rgb(253, 212, 113)"/>
<rect x="467.40" y="213.85" width="8.90" height="8.90" fill="rgb(253, 212, 116)"/>
<rect x="476.00" y="213.85" width="8.90" height="8.90" fill="rgb(253, 216, 130)"/>
<rect x="484.60" y="213.85" width="8.90" height="8.90" fill="rgb(253, 225, 166)"/>
<rect x="493.20" y="213.85" width="8.90" height="8.90" fill="rgb(253, 233, 197)"/>
<rect x="501.80" y="213.85" width="8.90" height="8.90" fill="rgb(251, 241, 225)"/>
<rect x="510.40" y="213.85" width="8.90" height="8.90" fill="rgb(250, 244, 231)"/>
<rect x="519.00" y="213.85" width="8.90" height="8.90" fill="rgb(250, 243, 229)"/>
<rect x="527.60" y="213.85" width="8.90" height="8.90" fill="rgb(252, 241, 223)"/>
<rect x="536.20" y="213.85" width="8.90" height="8.90" fill="rgb(253, 238, 217)"/>
<rect x="544.80" y="213.85" width="8.90" height="8.90" fill="rgb(253, 238, 217)"/>
<rect x="553.40" y="213.85" width="8.90" height="8.90" fill="rgb(251, 242, 227)"/>
<rect x="562.00" y="213.85" width="8.90" height="8.90" fill="rgb(249, 245, 235)"/>
<rect x="570.60" y="213.85" width="8.90" height="8.90" fill="rgb(248, 246, 239)"/>
<rect x="433.00" y="222.45" width="8.90" height="8.90" fill="rgb(253, 209, 103)"/>
<rect x="441.60" y="222.45" width="8.90" height="8.90" fill="rgb(253, 215, 127)"/>
<rect x="450.20" y="222.45" width="8.90" height="8.90" fill="rgb(253, 219, 144)"/>
<rect x="458.80" y="222.45" width="8.90" height="8.90" fill="rgb(253, 223, 159)"/>
<rect x="467.40" y="222.45" width="8.90" height="8.90" fill="rgb(253, 226, 170)"/>
<rect x="476.00" y="222.45" width="8.90" height="8.90" fill="rgb(253, 229, 182)"/>
<rect x="484.60" y="222.45" width="8.90" height="8.90" fill="rgb(253, 234, 202)"/>
<rect x="493.20" y="222.45" width="8.90" height="8.90" fill="rgb(253, 238, 215)"/>
<rect x="501.80" y="222.45" width="8.90" height="8.90" fill="rgb(251, 243, 228)"/>
<rect x="510.40" y="222.45" width="8.90" height="8.90" fill="rgb(250, 244, 232)"/>
<rect x="519.00" y="222.45" width="8.90" height="8.90" fill="rgb(251, 243, 229)"/>
<rect x="527.60" y="222.45" width="8.90" height="8.90" fill="rgb(252, 240, 222)"/>
<rect x="536.20" y="222.45" width="8.90" height="8.90" fill="rgb(253, 237, 213)"/>
<rect x="544.80" y="222.45" width="8.90" height="8.90" fill="rgb(253, 238, 214)"/>
<rect x="553.40" y="222.45" width="8.90" height="8.90" fill="rgb(251, 242, 226)"/>
<rect x="562.00" y="222.45" width="8.90" height="8.90" fill="rgb(249, 245, 235)"/>
<rect x="570.60" y="222.45" width="8.90" height="8.90" fill="rgb(248, 246, 238)"/>
<rect x="433.00" y="231.05" width="8.90" height="8.90" fill="rgb(253, 214, 123)"/>
<rect x="441.60" y="231.05" width="8.90" height="8.90" fill="rgb(253, 222, 154)"/>
<rect x="450.20" y="231.05" width="8.90" height="8.90" fill="rgb(253, 229, 180)"/>
<rect x="458.80" y="231.05" width="8.90" height="8.90" fill="rgb(253, 234, 199)"/>
<rect x="467.40" y="231.05" width="8.90" height="8.90" fill="rgb(253, 237, 212)"/>
<rect x="476.00" y="231.05" width="8.90" height="8.90" fill="rgb(252, 239, 220)"/>
<rect x="484.60" y="231.05" width="8.90" height="8.90" fill="rgb(252, 241, 224)"/>
<rect x="493.20" y="231.05" width="8.90" height="8.90" fill="rgb(252, 240, 223)"/>
<rect x="501.80" y="231.05" width="8.90" height="8.90" fill="rgb(250, 243, 231)"/>
<rect x="510.40" y="231.05" width="8.90" height="8.90" fill="rgb(250, 244, 233)"/>
<rect x="519.00" y="231.05" width="8.90" height="8.90" fill="rgb(250, 244, 231)"/>
<rect x="527.60" y="231.05" width="8.90" height="8.90" fill="rgb(252, 241, 224)"/>
<rect x="536.20" y="231.05" width="8.90" height="8.90" fill="rgb(253, 238, 216)"/>
<rect x="544.80" y="231.05" width="8.90" height="8.90" fill="rgb(253, 238, 217)"/>
<rect x="553.40" y="231.05" width="8.90" height="8.90" fill="rgb(251, 242, 227)"/>
<rect x="562.00" y="231.05" width="8.90" height="8.90" fill="rgb(249, 245, 235)"/>
<rect x="570.60" y="231.05" width="8.90" height="8.90" fill="rgb(248, 246, 239)"/>
<rect x="433.00" y="239.65" width="8.90" height="8.90" fill="rgb(253, 214, 124)"/>
<rect x="441.60" y="239.65" width="8.90" height="8.90" fill="rgb(253, 222, 156)"/>
<rect x="450.20" y="239.65" width="8.90" height="8.90" fill="rgb(253, 230, 185)"/>
<rect x="458.80" y="239.65" width="8.90" height="8.90" fill="rgb(253, 236, 209)"/>
<rect x="467.40" y="239.65" width="8.90" height="8.90" fill="rgb(252, 240, 222)"/>
<rect x="476.00" y="239.65" width="8.90" height="8.90" fill="rgb(251, 243, 228)"/>
<rect x="484.60" y="239.65" width="8.90" height="8.90" fill="rgb(250, 244, 231)"/>
<rect x="493.20" y="239.65" width="8.90" height="8.90" fill="rgb(250, 244, 231)"/>
<rect x="501.80" y="239.65" width="8.90" height="8.90" fill="rgb(249, 245, 234)"/>
<rect x="510.40" y="239.65" width="8.90" height="8.90" fill="rgb(249, 245, 234)"/>
<rect x="519.00" y="239.65" width="8.90" height="8.90" fill="rgb(250, 244, 233)"/>
<rect x="527.60" y="239.65" width="8.90" height="8.90" fill="rgb(250, 244, 231)"/>
<rect x="536.20" y="239.65" width="8.90" height="8.90" fill="rgb(251, 242, 228)"/>
<rect x="544.80" y="239.65" width="8.90" height="8.90" fill="rgb(251, 243, 228)"/>
<rect x="553.40" y="239.65" width="8.90" height="8.90" fill="rgb(250, 244, 234)"/>
<rect x="562.00" y="239.65" width="8.90" height="8.90" fill="rgb(248, 246, 238)"/>
<rect x="433.00" y="248.25" width="8.90" height="8.90" fill="rgb(253, 212, 118)"/>
<rect x="441.60" y="248.25" width="8.90" height="8.90" fill="rgb(253, 220, 145)"/>
<rect x="450.20" y="248.25" width="8.90" height="8.90" fill="rgb(253, 228, 177)"/>
<rect x="458.80" y="248.25" width="8.90" height="8.90" fill="rgb(253, 235, 206)"/>
<rect x="467.40" y="248.25" width="8.90" height="8.90" fill="rgb(252, 240, 222)"/>
<rect x="476.00" y="248.25" width="8.90" height="8.90" fill="rgb(251, 243, 229)"/>
<rect x="484.60" y="248.25" width="8.90" height="8.90" fill="rgb(250, 244, 232)"/>
<rect x="493.20" y="248.25" width="8.90" height="8.90" fill="rgb(249, 245, 234)"/>
<rect x="501.80" y="248.25" width="8.90" height="8.90" fill="rgb(249, 245, 235)"/>
<rect x="510.40" y="248.25" width="8.90" height="8.90" fill="rgb(249, 245, 235)"/>
<rect x="519.00" y="248.25" width="8.90" height="8.90" fill="rgb(250, 244, 233)"/>
<rect x="527.60" y="248.25" width="8.90" height="8.90" fill="rgb(250, 244, 232)"/>
<rect x="536.20" y="248.25" width="8.90" height="8.90" fill="rgb(250, 243, 230)"/>
<rect x="544.80" y="248.25" width="8.90" height="8.90" fill="rgb(250, 244, 231)"/>
<rect x="553.40" y="248.25" width="8.90" height="8.90" fill="rgb(249, 245, 236)"/>
<rect x="562.00" y="248.25" width="8.90" height="8.90" fill="rgb(248, 246, 240)"/>
<rect x="433.00" y="256.85" width="8.90" height="8.90" fill="rgb(253, 208, 96)"/>
<rect x="441.60" y="256.85" width="8.90" height="8.90" fill="rgb(253, 211, 109)"/>
<rect x="450.20" y="256.85" width="8.90" height="8.90" fill="rgb(253, 219, 144)"/>
<rect x="458.80" y="256.85" width="8.90" height="8.90" fill="rgb(253, 229, 183)"/>
<rect x="467.40" y="256.85" width="8.90" height="8.90" fill="rgb(253, 237, 214)"/>
<rect x="476.00" y="256.85" width="8.90" height="8.90" fill="rgb(251, 242, 226)"/>
<rect x="484.60" y="256.85" width="8.90" height="8.90" fill="rgb(250, 244, 232)"/>
<rect x="493.20" y="256.85" width="8.90" height="8.90" fill="rgb(249, 245, 234)"/>
<rect x="501.80" y="256.85" width="8.90" height="8.90" fill="rgb(249, 245, 236)"/>
<rect x="510.40" y="256.85" width="8.90" height="8.90" fill="rgb(249, 245, 235)"/>
<rect x="519.00" y="256.85" width="8.90" height="8.90" fill="rgb(250, 243, 231)"/>
<rect x="527.60" y="256.85" width="8.90" height="8.90" fill="rgb(250, 243, 230)"/>
<rect x="536.20" y="256.85" width="8.90" height="8.90" fill="rgb(250, 243, 230)"/>
<rect x="544.80" y="256.85" width="8.90" height="8.90" fill="rgb(249, 245, 234)"/>
<rect x="553.40" y="256.85" width="8.90" height="8.90" fill="rgb(248, 246, 238)"/>
<rect x="433.00" y="265.45" width="8.90" height="8.90" fill="rgb(252, 203, 75)"/>
<rect x="441.60" y="265.45" width="8.90" height="8.90" fill="rgb(252, 205, 81)"/>
<rect x="450.20" y="265.45" width="8.90" height="8.90" fill="rgb(253, 214, 123)"/>
<rect x="458.80" y="265.45" width="8.90" height="8.90" fill="rgb(253, 225, 167)"/>
<rect x="467.40" y="265.45" width="8.90" height="8.90" fill="rgb(253, 235, 205)"/>
<rect x="476.00" y="265.45" width="8.90" height="8.90" fill="rgb(251, 241, 225)"/>
<rect x="484.60" y="265.45" width="8.90" height="8.90" fill="rgb(250, 244, 232)"/>
<rect x="493.20" y="265.45" width="8.90" height="8.90" fill="rgb(249, 245, 234)"/>
<rect x="501.80" y="265.45" width="8.90" height="8.90" fill="rgb(249, 245, 236)"/>
<rect x="510.40" y="265.45" width="8.90" height="8.90" fill="rgb(249, 245, 235)"/>
<rect x="519.00" y="265.45" width="8.90" height="8.90" fill="rgb(250, 243, 230)"/>
<rect x="527.60" y="265.45" width="8.90" height="8.90" fill="rgb(250, 243, 229)"/>
<rect x="536.20" y="265.45" width="8.90" height="8.90" fill="rgb(250, 243, 230)"/>
<rect x="544.80" y="265.45" width="8.90" height="8.90" fill="rgb(249, 245, 235)"/>
<rect x="553.40" y="265.45" width="8.90" height="8.90" fill="rgb(248, 246, 239)"/>
<rect x="433.00" y="274.05" width="8.90" height="8.90" fill="rgb(252, 204, 77)"/>
<rect x="441.60" y="274.05" width="8.90" height="8.90" fill="rgb(252, 205, 83)"/>
<rect x="450.20" y="274.05" width="8.90" height="8.90" fill="rgb(253, 213, 121)"/>
<rect x="458.80" y="274.05" width="8.90" height="8.90" fill="rgb(253, 224, 164)"/>
<rect x="467.40" y="274.05" width="8.90" height="8.90" fill="rgb(253, 234, 202)"/>
<rect x="476.00" y="274.05" width="8.90" height="8.90" fill="rgb(252, 241, 223)"/>
<rect x="484.60" y="274.05" width="8.90" height="8.90" fill="rgb(250, 243, 230)"/>
<rect x="493.20" y="274.05" width="8.90" height="8.90" fill="rgb(249, 245, 234)"/>
<rect x="501.80" y="274.05" width="8.90" height="8.90" fill="rgb(249, 245, 236)"/>
<rect x="510.40" y="274.05" width="8.90" height="8.90" fill="rgb(249, 245, 235)"/>
<rect x="519.00" y="274.05" width="8.90" height="8.90" fill="rgb(250, 243, 230)"/>
<rect x="527.60" y="274.05" width="8.90" height="8.90" fill="rgb(250, 243, 230)"/>
<rect x="536.20" y="274.05" width="8.90" height="8.90" fill="rgb(250, 243, 230)"/>
<rect x="544.80" y="274.05" width="8.90" height="8.90" fill="rgb(249, 245, 236)"/>
<rect x="553.40" y="274.05" width="8.90" height="8.90" fill="rgb(248, 246, 240)"/>
<rect x="433.00" y="282.65" width="8.90" height="8.90" fill="rgb(253, 212, 115)"/>
<rect x="441.60" y="282.65" width="8.90" height="8.90" fill="rgb(253, 212, 114)"/>
<rect x="450.20" y="282.65" width="8.90" height="8.90" fill="rgb(253, 215, 127)"/>
<rect x="458.80" y="282.65" width="8.90" height="8.90" fill="rgb(253, 223, 158)"/>
<rect x="467.40" y="282.65" width="8.90" height="8.90" fill="rgb(253, 233, 198)"/>
<rect x="476.00" y="282.65" width="8.90" height="8.90" fill="rgb(252, 240, 220)"/>
<rect x="484.60" y="282.65" width="8.90" height="8.90" fill="rgb(251, 242, 228)"/>
<rect x="493.20" y="282.65" width="8.90" height="8.90" fill="rgb(250, 244, 233)"/>
<rect x="501.80" y="282.65" width="8.90" height="8.90" fill="rgb(249, 245, 235)"/>
<rect x="510.40" y="282.65" width="8.90" height="8.90" fill="rgb(249, 245, 235)"/>
<rect x="519.00" y="282.65" width="8.90" height="8.90" fill="rgb(250, 244, 232)"/>
<rect x="527.60" y="282.65" width="8.90" height="8.90" fill="rgb(250, 244, 232)"/>
<rect x="536.20" y="282.65" width="8.90" height="8.90" fill="rgb(250, 244, 233)"/>
<rect x="544.80" y="282.65" width="8.90" height="8.90" fill="rgb(248, 246, 237)"/>
<rect x="433.00" y="291.25" width="8.90" height="8.90" fill="rgb(253, 222, 153)"/>
<rect x="441.60" y="291.25" width="8.90" height="8.90" fill="rgb(253, 219, 144)"/>
<rect x="450.20" y="291.25" width="8.90" height="8.90" fill="rgb(253, 219, 143)"/>
<rect x="458.80" y="291.25" width="8.90" height="8.90" fill="rgb(253, 222, 156)"/>
<rect x="467.40" y="291.25" width="8.90" height="8.90" fill="rgb(253, 231, 191)"/>
<rect x="476.00" y="291.25" width="8.90" height="8.90" fill="rgb(253, 237, 214)"/>
<rect x="484.60" y="291.25" width="8.90" height="8.90" fill="rgb(252, 240, 221)"/>
<rect x="493.20" y="291.25" width="8.90" height="8.90" fill="rgb(250, 243, 230)"/>
<rect x="501.80" y="291.25" width="8.90" height="8.90" fill="rgb(250, 244, 233)"/>
<rect x="510.40" y="291.25" width="8.90" height="8.90" fill="rgb(249, 245, 234)"/>
<rect x="519.00" y="291.25" width="8.90" height="8.90" fill="rgb(250, 244, 233)"/>
<rect x="527.60" y="291.25" width="8.90" height="8.90" fill="rgb(249, 245, 235)"/>
<rect x="536.20" y="291.25" width="8.90" height="8.90" fill="rgb(248, 246, 237)"/>
<rect x="433.00" y="299.85" width="8.90" height="8.90" fill="rgb(253, 223, 158)"/>
<rect x="441.60" y="299.85" width="8.90" height="8.90" fill="rgb(253, 221, 149)"/>
<rect x="450.20" y="299.85" width="8.90" height="8.90" fill="rgb(253, 220, 146)"/>
<rect x="458.80" y="299.85" width="8.90" height="8.90" fill="rgb(253, 222, 154)"/>
<rect x="467.40" y="299.85" width="8.90" height="8.90" fill="rgb(253, 230, 185)"/>
<rect x="476.00" y="299.85" width="8.90" height="8.90" fill="rgb(253, 235, 205)"/>
<rect x="484.60" y="299.85" width="8.90" height="8.90" fill="rgb(253, 237, 214)"/>
<rect x="493.20" y="299.85" width="8.90" height="8.90" fill="rgb(251, 241, 225)"/>
<rect x="501.80" y="299.85" width="8.90" height="8.90" fill="rgb(251, 242, 227)"/>
<rect x="510.40" y="299.85" width="8.90" height="8.90" fill="rgb(251, 242, 227)"/>
<rect x="519.00" y="299.85" width="8.90" height="8.90" fill="rgb(251, 243, 228)"/>
<rect x="527.60" y="299.85" width="8.90" height="8.90" fill="rgb(249, 245, 234)"/>
<rect x="536.20" y="299.85" width="8.90" height="8.90" fill="rgb(248, 246, 238)"/>
<rect x="433.00" y="308.45" width="8.90" height="8.90" fill="rgb(253, 222, 153)"/>
<rect x="441.60" y="308.45" width="8.90" height="8.90" fill="rgb(253, 220, 147)"/>
<rect x="450.20" y="308.45" width="8.90" height="8.90" fill="rgb(253, 220, 146)"/>
<rect x="458.80" y="308.45" width="8.90" height="8.90" fill="rgb(253, 222, 156)"/>
<rect x="467.40" y="308.45" width="8.90" height="8.90" fill="rgb(253, 230, 184)"/>
<rect x="476.00" y="308.45" width="8.90" height="8.90" fill="rgb(253, 234, 200)"/>
<rect x="484.60" y="308.45" width="8.90" height="8.90" fill="rgb(253, 236, 208)"/>
<rect x="493.20" y="308.45" width="8.90" height="8.90" fill="rgb(252, 240, 222)"/>
<rect x="501.80" y="308.45" width="8.90" height="8.90" fill="rgb(252, 241, 223)"/>
<rect x="510.40" y="308.45" width="8.90" height="8.90" fill="rgb(252, 241, 224)"/>
<rect x="519.00" y="308.45" width="8.90" height="8.90" fill="rgb(251, 241, 225)"/>
<rect x="527.60" y="308.45" width="8.90" height="8.90" fill="rgb(250, 244, 232)"/>
<rect x="536.20" y="308.45" width="8.90" height="8.90" fill="rgb(248, 246, 238)"/>
<rect x="433.00" y="317.05" width="8.90" height="8.90" fill="rgb(253, 220, 148)"/>
<rect x="441.60" y="317.05" width="8.90" height="8.90" fill="rgb(253, 220, 147)"/>
<rect x="450.20" y="317.05" width="8.90" height="8.90" fill="rgb(253, 222, 154)"/>
<rect x="458.80" y="317.05" width="8.90" height="8.90" fill="rgb(253, 226, 169)"/>
<rect x="467.40" y="317.05" width="8.90" height="8.90" fill="rgb(253, 232, 192)"/>
<rect x="476.00" y="317.05" width="8.90" height="8.90" fill="rgb(253, 234, 201)"/>
<rect x="484.60" y="317.05" width="8.90" height="8.90" fill="rgb(253, 236, 208)"/>
<rect x="493.20" y="317.05" width="8.90" height="8.90" fill="rgb(252, 240, 222)"/>
<rect x="501.80" y="317.05" width="8.90" height="8.90" fill="rgb(252, 241, 224)"/>
<rect x="510.40" y="317.05" width="8.90" height="8.90" fill="rgb(251, 242, 226)"/>
<rect x="519.00" y="317.05" width="8.90" height="8.90" fill="rgb(251, 243, 228)"/>
<rect x="527.60" y="317.05" width="8.90" height="8.90" fill="rgb(249, 245, 234)"/>
<rect x="536.20" y="317.05" width="8.90" height="8.90" fill="rgb(248, 246, 238)"/>
<rect x="433.00" y="325.65" width="8.90" height="8.90" fill="rgb(253, 223, 158)"/>
<rect x="441.60" y="325.65" width="8.90" height="8.90" fill="rgb(253, 224, 162)"/>
<rect x="450.20" y="325.65" width="8.90" height="8.90" fill="rgb(253, 227, 175)"/>
<rect x="458.80" y="325.65" width="8.90" height="8.90" fill="rgb(253, 232, 194)"/>
<rect x="467.40" y="325.65" width="8.90" height="8.90" fill="rgb(253, 236, 209)"/>
<rect x="476.00" y="325.65" width="8.90" height="8.90" fill="rgb(253, 237, 212)"/>
<rect x="484.60" y="325.65" width="8.90" height="8.90" fill="rgb(253, 238, 217)"/>
<rect x="493.20" y="325.65" width="8.90" height="8.90" fill="rgb(251, 241, 225)"/>
<rect x="501.80" y="325.65" width="8.90" height="8.90" fill="rgb(251, 242, 227)"/>
<rect x="510.40" y="325.65" width="8.90" height="8.90" fill="rgb(250, 244, 231)"/>
<rect x="519.00" y="325.65" width="8.90" height="8.90" fill="rgb(249, 245, 234)"/>
<rect x="527.60" y="325.65" width="8.90" height="8.90" fill="rgb(248, 246, 237)"/>
<rect x="536.20" y="325.65" width="8.90" height="8.90" fill="rgb(248, 246, 240)"/>
<rect x="433.00" y="334.25" width="8.90" height="8.90" fill="rgb(253, 228, 177)"/>
<rect x="441.60" y="334.25" width="8.90" height="8.90" fill="rgb(253, 230, 186)"/>
<rect x="450.20" y="334.25" width="8.90" height="8.90" fill="rgb(253, 233, 197)"/>
<rect x="458.80" y="334.25" width="8.90" height="8.90" fill="rgb(253, 237, 211)"/>
<rect x="467.40" y="334.25" width="8.90" height="8.90" fill="rgb(252, 239, 220)"/>
<rect x="476.00" y="334.25" width="8.90" height="8.90" fill="rgb(252, 240, 221)"/>
<rect x="484.60" y="334.25" width="8.90" height="8.90" fill="rgb(252, 240, 223)"/>
<rect x="493.20" y="334.25" width="8.90" height="8.90" fill="rgb(251, 242, 228)"/>
<rect x="501.80" y="334.25" width="8.90" height="8.90" fill="rgb(250, 243, 229)"/>
<rect x="510.40" y="334.25" width="8.90" height="8.90" fill="rgb(249, 245, 234)"/>
<rect x="519.00" y="334.25" width="8.90" height="8.90" fill="rgb(249, 245, 237)"/>
<rect x="527.60" y="334.25" width="8.90" height="8.90" fill="rgb(248, 246, 240)"/>
<rect x="433.00" y="342.85" width="8.90" height="8.90" fill="rgb(253, 234, 200)"/>
<rect x="441.60" y="342.85" width="8.90" height="8.90" fill="rgb(253, 236, 209)"/>
<rect x="450.20" y="342.85" width="8.90" height="8.90" fill="rgb(253, 237, 214)"/>
<rect x="458.80" y="342.85" width="8.90" height="8.90" fill="rgb(252, 240, 222)"/>
<rect x="467.40" y="342.85" width="8.90" height="8.90" fill="rgb(251, 242, 227)"/>
<rect x="476.00" y="342.85" width="8.90" height="8.90" fill="rgb(252, 241, 224)"/>
<rect x="484.60" y="342.85" width="8.90" height="8.90" fill="rgb(252, 241, 224)"/>
<rect x="493.20" y="342.85" width="8.90" height="8.90" fill="rgb(251, 242, 227)"/>
<rect x="501.80" y="342.85" width="8.90" height="8.90" fill="rgb(251, 243, 229)"/>
<rect x="510.40" y="342.85" width="8.90" height="8.90" fill="rgb(249, 245, 235)"/>
<rect x="519.00" y="342.85" width="8.90" height="8.90" fill="rgb(248, 246, 239)"/>
<rect x="433.00" y="351.45" width="8.90" height="8.90" fill="rgb(252, 240, 222)"/>
<rect x="441.60" y="351.45" width="8.90" height="8.90" fill="rgb(252, 241, 223)"/>
<rect x="450.20" y="351.45" width="8.90" height="8.90" fill="rgb(252, 241, 224)"/>
<rect x="458.80" y="351.45" width="8.90" height="8.90" fill="rgb(250, 243, 229)"/>
<rect x="467.40" y="351.45" width="8.90" height="8.90" fill="rgb(250, 244, 234)"/>
<rect x="476.00" y="351.45" width="8.90" height="8.90" fill="rgb(251, 243, 228)"/>
<rect x="484.60" y="351.45" width="8.90" height="8.90" fill="rgb(251, 242, 228)"/>
<rect x="493.20" y="351.45" width="8.90" height="8.90" fill="rgb(250, 244, 231)"/>
<rect x="501.80" y="351.45" width="8.90" height="8.90" fill="rgb(250, 244, 233)"/>
<rect x="510.40" y="351.45" width="8.90" height="8.90" fill="rgb(248, 246, 238)"/>
<rect x="433.00" y="360.05" width="8.90" height="8.90" fill="rgb(249, 245, 234)"/>
<rect x="441.60" y="360.05" width="8.90" height="8.90" fill="rgb(249, 245, 234)"/>
<rect x="450.20" y="360.05" width="8.90" height="8.90" fill="rgb(249, 245, 234)"/>
<rect x="458.80" y="360.05" width="8.90" height="8.90" fill="rgb(249, 245, 236)"/>
<rect x="467.40" y="360.05" width="8.90" height="8.90" fill="rgb(248, 246, 238)"/>
<rect x="476.00" y="360.05" width="8.90" height="8.90" fill="rgb(249, 245, 234)"/>
<rect x="484.60" y="360.05" width="8.90" height="8.90" fill="rgb(249, 245, 234)"/>
<rect x="493.20" y="360.05" width="8.90" height="8.90" fill="rgb(249, 245, 237)"/>
<rect x="501.80" y="360.05" width="8.90" height="8.90" fill="rgb(248, 246, 238)"/>
<rect x="433.00" y="368.65" width="8.90" height="8.90" fill="rgb(248, 246, 239)"/>
<rect x="441.60" y="368.65" width="8.90" height="8.90" fill="rgb(248, 246, 239)"/>
<rect x="450.20" y="368.65" width="8.90" height="8.90" fill="rgb(248, 246, 239)"/>
<rect x="458.80" y="368.65" width="8.90" height="8.90" fill="rgb(248, 246, 240)"/>
<rect x="467.40" y="368.65" width="8.90" height="8.90" fill="rgb(248, 246, 240)"/>
<rect x="476.00" y="368.65" width="8.90" height="8.90" fill="rgb(248, 246, 238)"/>
<rect x="484.60" y="368.65" width="8.90" height="8.90" fill="rgb(248, 246, 238)"/>
<rect x="493.20" y="368.65" width="8.90" height="8.90" fill="rgb(248, 246, 240)"/>
</g>
<line x1="469.29" y1="163.92" x2="469.29" y2="337.33" stroke="#b0b0ae" stroke-width="0.6" stroke-dasharray="4.5 1.5 1 1.5" opacity="0.5" fill="none"/>
<line x1="568.71" y1="163.92" x2="568.71" y2="337.33" stroke="#b0b0ae" stroke-width="0.6" stroke-dasharray="4.5 1.5 1 1.5" opacity="0.5" fill="none"/>
<line x1="496.30" y1="138.49" x2="496.30" y2="362.76" stroke="#b0b0ae" stroke-width="0.6" stroke-dasharray="4.5 1.5 1 1.5" opacity="0.5" fill="none"/>
<line x1="541.70" y1="136.49" x2="541.70" y2="366.76" stroke="#fbfbf8" stroke-width="0.7" opacity="0.5"/>
<line x1="433.00" y1="163.92" x2="469.29" y2="163.92" stroke="#b0b0ae" stroke-width="0.6" stroke-dasharray="4.5 1.5 1 1.5" opacity="0.5" fill="none"/>
<line x1="568.71" y1="163.92" x2="605.00" y2="163.92" stroke="#b0b0ae" stroke-width="0.6" stroke-dasharray="4.5 1.5 1 1.5" opacity="0.5" fill="none"/>
<line x1="433.0" y1="207.27" x2="605.0" y2="207.27" stroke="#b0b0ae" stroke-width="0.6" stroke-dasharray="4.5 1.5 1 1.5" opacity="0.5" fill="none" opacity="0.8"/>
<line x1="433.0" y1="250.62" x2="605.0" y2="250.62" stroke="#fbfbf8" stroke-width="0.9" fill="none" opacity="0.55"/>
<line x1="433.0" y1="293.98" x2="605.0" y2="293.98" stroke="#fbfbf8" stroke-width="0.9" fill="none" opacity="0.7"/>
<line x1="433.0" y1="337.33" x2="605.0" y2="337.33" stroke="#fbfbf8" stroke-width="0.9" fill="none"/>
<line x1="605.0" y1="119.25" x2="605.0" y2="382.0" stroke="#fbfbf8" stroke-width="0.9" fill="none"/>
<line x1="433.0" y1="119.25" x2="605.0" y2="119.25" stroke="#8f8f8d" stroke-width="1" fill="none"/>
<line x1="433.0" y1="382.0" x2="605.0" y2="382.0" stroke="#8f8f8d" stroke-width="1" fill="none"/>
<path d="M469.29 119.25 V163.92 H568.71 V119.25" stroke="#8f8f8d" stroke-width="1" fill="none"/>
<path d="M496.30 119.25 V134.49 H541.70 V119.25" stroke="#8f8f8d" stroke-width="1" fill="none"/>
<line x1="469.29" y1="337.33" x2="469.29" y2="382.0" stroke="#8f8f8d" stroke-width="1" fill="none"/>
<line x1="568.71" y1="337.33" x2="568.71" y2="382.0" stroke="#8f8f8d" stroke-width="1" fill="none"/>
<path d="M496.30 382.0 V366.76 H541.70" stroke="#8f8f8d" stroke-width="1" fill="none"/>
<line x1="541.70" y1="366.76" x2="541.70" y2="382.0" stroke="#fbfbf8" stroke-width="0.9" fill="none"/>
<path d="M509.2 119.25 V114.3 H528.8 V119.25" stroke="#fbfbf8" stroke-width="0.9" fill="none"/>
<line x1="509.2" y1="114.3" x2="528.8" y2="114.3" stroke="#c4c4c1" stroke-width="0.8"/>
<path d="M509.2 382.0 V387.0 H528.8 V382.0" stroke="#fbfbf8" stroke-width="0.9" fill="none"/>
<circle cx="519" cy="250.62" r="22.7" stroke="#7f7f7d" stroke-width="0.8" stroke-dasharray="6 1.5 1.2 1.5" fill="none"/>
<circle cx="519" cy="250.62" r="0.8" fill="#777"/>
<line x1="518" y1="149.47" x2="520" y2="149.47" stroke="#999" stroke-width="0.6"/>
<line x1="518" y1="351.78" x2="520" y2="351.78" stroke="#999" stroke-width="0.6"/>
<path d="M505.3 163.92 A18.2 18.2 0 0 0 532.7 163.92" stroke="#8a8a88" stroke-width="0.8" stroke-dasharray="5 1.5 1 1.5" fill="none"/>
<path d="M505.3 337.33 A18.2 18.2 0 0 1 532.7 337.33" stroke="#8a8a88" stroke-width="0.8" stroke-dasharray="5 1.5 1 1.5" fill="none"/>
<text x="516.5" y="97.6" class="serifr" font-size="10.8" text-anchor="middle" fill="#9a9a98" stroke="#9a9a98" stroke-width="0.35" textLength="93" lengthAdjust="spacingAndGlyphs">Open-play heatmap</text>
<line x1="429.5" y1="224.2" x2="429.5" y2="276.8" stroke="#8e8e8c" stroke-width="0.9"/>
<text x="428" y="251.2" font-size="5.6" fill="#8e8e8c" text-anchor="middle" transform="rotate(-90 428 251.2)" textLength="15.8" lengthAdjust="spacingAndGlyphs">Attack</text>
<!--/HEATMAP-->
<!--RECEIVERS-->
<g shape-rendering="crispEdges">
<rect x="634.00" y="119.25" width="36.29" height="44.67" fill="#fbeac4"/>
<rect x="670.29" y="119.25" width="27.00" height="44.67" fill="#f9e19a"/>
<rect x="634.00" y="163.92" width="36.29" height="86.71" fill="#fcf0dd"/>
<rect x="670.29" y="163.92" width="27.00" height="43.35" fill="#fbeac7"/>
<rect x="670.29" y="207.27" width="27.00" height="43.35" fill="#fcf0dd"/>
<rect x="697.30" y="163.92" width="45.41" height="86.71" fill="#fcf1de"/>
<rect x="742.70" y="163.92" width="27.00" height="43.35" fill="#f9e19a"/>
<rect x="670.29" y="250.62" width="27.00" height="43.35" fill="#fbe8c2"/>
<rect x="670.29" y="293.98" width="27.00" height="43.35" fill="#fcefdc"/>
</g>
<rect x="634.0" y="119.25" width="172.0" height="262.75" stroke="#b0b0ad" stroke-width="0.9" fill="none"/>
<line x1="634.0" y1="119.25" x2="806.0" y2="119.25" stroke="#9b9b98" stroke-width="0.9" fill="none"/>
<line x1="634.0" y1="382.0" x2="806.0" y2="382.0" stroke="#9b9b98" stroke-width="0.9" fill="none"/>
<line x1="634.0" y1="250.62" x2="806.0" y2="250.62" stroke="#fbfbf8" stroke-width="0.9" fill="none"/>
<path d="M769.71 119.25 V163.92 H697.30" stroke="#9b9b98" stroke-width="0.9" fill="none"/>
<path d="M742.70 119.25 V134.49 H697.30" stroke="#b5b5b2" stroke-width="0.8" fill="none"/>
<path d="M670.29 382.0 V337.33 H769.71" stroke="#fbfbf8" stroke-width="0.9" fill="none"/>
<line x1="769.71" y1="337.33" x2="769.71" y2="382.0" stroke="#9b9b98" stroke-width="0.9" fill="none"/>
<path d="M697.30 382.0 V366.76 H742.70 V382.0" stroke="#9b9b98" stroke-width="0.9" fill="none"/>
<path d="M710.2 119.25 V114.3 H729.8 V119.25" stroke="#b9b9b6" stroke-width="0.8" fill="none"/>
<path d="M710.2 382.0 V387.0 H729.8 V382.0" stroke="#fbfbf8" stroke-width="0.9" fill="none"/>
<circle cx="720" cy="250.62" r="22.7" stroke="#9a9a98" stroke-width="0.7" stroke-dasharray="4 2" fill="none"/>
<path d="M706.3 163.92 A18.2 18.2 0 0 0 733.7 163.92" stroke="#9a9a98" stroke-width="0.7" stroke-dasharray="4 2" fill="none" opacity="0.7"/>
<path d="M706.3 337.33 A18.2 18.2 0 0 1 733.7 337.33" stroke="#9a9a98" stroke-width="0.7" stroke-dasharray="4 2" fill="none"/>
<circle cx="720" cy="250.62" r="0.6" fill="#999"/>
<circle cx="720" cy="149.47" r="0.5" fill="#aaa"/>
<circle cx="720" cy="351.78" r="0.5" fill="#aaa"/>
<defs>
<linearGradient id="lg0" gradientUnits="userSpaceOnUse" x1="675.0" y1="198.6" x2="695.0" y2="146.4"><stop offset="0" stop-color="#fbeed0" stop-opacity="0.9"/><stop offset="0.25" stop-color="#c9c0a8"/><stop offset="0.6" stop-color="#5a5a58"/><stop offset="1" stop-color="#1a1a1a"/></linearGradient>
<linearGradient id="lg1" gradientUnits="userSpaceOnUse" x1="675.0" y1="198.6" x2="664.8" y2="162.0"><stop offset="0" stop-color="#fbeed0" stop-opacity="0.9"/><stop offset="0.25" stop-color="#c9c0a8"/><stop offset="0.6" stop-color="#5a5a58"/><stop offset="1" stop-color="#1a1a1a"/></linearGradient>
<linearGradient id="lg2" gradientUnits="userSpaceOnUse" x1="675.0" y1="198.6" x2="746.8" y2="204.6"><stop offset="0" stop-color="#fbeed0" stop-opacity="0.9"/><stop offset="0.25" stop-color="#c9c0a8"/><stop offset="0.6" stop-color="#5a5a58"/><stop offset="1" stop-color="#1a1a1a"/></linearGradient>
<linearGradient id="lg3" gradientUnits="userSpaceOnUse" x1="675.0" y1="198.6" x2="688.2" y2="212.8"><stop offset="0" stop-color="#fbeed0" stop-opacity="0.9"/><stop offset="0.25" stop-color="#c9c0a8"/><stop offset="0.6" stop-color="#5a5a58"/><stop offset="1" stop-color="#1a1a1a"/></linearGradient>
<linearGradient id="lg4" gradientUnits="userSpaceOnUse" x1="675.0" y1="198.6" x2="696.3" y2="237.2"><stop offset="0" stop-color="#fbeed0" stop-opacity="0.9"/><stop offset="0.25" stop-color="#c9c0a8"/><stop offset="0.6" stop-color="#5a5a58"/><stop offset="1" stop-color="#1a1a1a"/></linearGradient>
</defs>
<line x1="675.0" y1="198.6" x2="695.0" y2="146.4" stroke="url(#lg0)" stroke-width="3.2" stroke-linecap="butt"/>
<line x1="675.0" y1="198.6" x2="664.8" y2="162.0" stroke="url(#lg1)" stroke-width="4.0" stroke-linecap="butt"/>
<line x1="675.0" y1="198.6" x2="746.8" y2="204.6" stroke="url(#lg2)" stroke-width="3.1" stroke-linecap="butt"/>
<line x1="675.0" y1="198.6" x2="688.2" y2="212.8" stroke="url(#lg3)" stroke-width="1.8" stroke-linecap="butt"/>
<line x1="675.0" y1="198.6" x2="696.3" y2="237.2" stroke="url(#lg4)" stroke-width="3.4" stroke-linecap="butt"/>
<circle cx="695.0" cy="146.4" r="3.5" fill="#1c1c1c"/>
<circle cx="664.8" cy="162.0" r="4.7" fill="#1c1c1c"/>
<circle cx="746.8" cy="204.6" r="3.3" fill="#1c1c1c"/>
<circle cx="688.2" cy="212.8" r="2.0" fill="#1c1c1c"/>
<circle cx="696.3" cy="237.2" r="4.0" fill="#1c1c1c"/>
<circle cx="675.0" cy="198.6" r="5.7" fill="#fcbb0f"/>
<text x="697.6" y="144.6" font-size="8.1" text-anchor="middle" fill="none" stroke="#fdfaf2" stroke-width="1.5" stroke-linejoin="round" textLength="44.5" lengthAdjust="spacingAndGlyphs">Brahim Diaz</text>
<text x="697.6" y="144.6" font-size="8.1" text-anchor="middle" fill="#161616" stroke="#161616" stroke-width="0.3" textLength="44.5" lengthAdjust="spacingAndGlyphs">Brahim Diaz</text>
<text x="661.6" y="169.9" font-size="8.1" text-anchor="middle" fill="none" stroke="#fdfaf2" stroke-width="1.5" stroke-linejoin="round" textLength="42" lengthAdjust="spacingAndGlyphs">Fran Garcia</text>
<text x="661.6" y="169.9" font-size="8.1" text-anchor="middle" fill="#161616" stroke="#161616" stroke-width="0.3" textLength="42" lengthAdjust="spacingAndGlyphs">Fran Garcia</text>
<text x="744.0" y="212.5" font-size="8.1" text-anchor="middle" fill="none" stroke="#fdfaf2" stroke-width="1.5" stroke-linejoin="round" textLength="30" lengthAdjust="spacingAndGlyphs">A. Guler</text>
<text x="744.0" y="212.5" font-size="8.1" text-anchor="middle" fill="#161616" stroke="#161616" stroke-width="0.3" textLength="30" lengthAdjust="spacingAndGlyphs">A. Guler</text>
<text x="685.6" y="220.6" font-size="8.1" text-anchor="middle" fill="none" stroke="#fdfaf2" stroke-width="1.5" stroke-linejoin="round" textLength="34.5" lengthAdjust="spacingAndGlyphs">L. Modric</text>
<text x="685.6" y="220.6" font-size="8.1" text-anchor="middle" fill="#161616" stroke="#161616" stroke-width="0.3" textLength="34.5" lengthAdjust="spacingAndGlyphs">L. Modric</text>
<text x="693.3" y="244.7" font-size="8.1" text-anchor="middle" fill="none" stroke="#fdfaf2" stroke-width="1.5" stroke-linejoin="round" textLength="49" lengthAdjust="spacingAndGlyphs">J. Bellingham</text>
<text x="693.3" y="244.7" font-size="8.1" text-anchor="middle" fill="#161616" stroke="#161616" stroke-width="0.3" textLength="49" lengthAdjust="spacingAndGlyphs">J. Bellingham</text>
<text x="717.5" y="97.6" class="serifr" font-size="10.8" text-anchor="middle" fill="#9a9a98" stroke="#9a9a98" stroke-width="0.35" textLength="87" lengthAdjust="spacingAndGlyphs">Top pass receivers</text>
<line x1="630.5" y1="225" x2="630.5" y2="276.8" stroke="#c6c6c3" stroke-width="0.8"/>
<circle cx="630.5" cy="225" r="0.7" fill="#9a9a98"/>
<text x="629" y="251.2" font-size="5.6" fill="#8e8e8c" text-anchor="middle" transform="rotate(-90 629 251.2)" textLength="15.8" lengthAdjust="spacingAndGlyphs">Attack</text>
<!--/RECEIVERS-->
<!--TABLE-->
<line x1="437" y1="434.4" x2="806.5" y2="434.4" stroke="#c6c6c3" stroke-width="1"/>
<line x1="437" y1="564.3" x2="806.5" y2="564.3" stroke="#c6c6c3" stroke-width="1"/>
<line x1="437" y1="597.3" x2="806.5" y2="597.3" stroke="#c6c6c3" stroke-width="1"/>
<line x1="437" y1="662.3" x2="806.5" y2="662.3" stroke="#c6c6c3" stroke-width="1"/>
<text x="671" y="422.3" font-size="11" text-anchor="middle" fill="#989896" stroke="#989896" stroke-width="0.15">Value</text>
<text x="745.3" y="422.3" font-size="11" text-anchor="middle" fill="#989896" stroke="#989896" stroke-width="0.15" textLength="61.5" lengthAdjust="spacingAndGlyphs">Match Rank</text>
<text x="449.6" y="455.0" font-size="11.8" fill="#1e1e1e" stroke="#1e1e1e" stroke-width="0.2">Total passes</text>
<text x="671" y="455.0" font-size="11.6" text-anchor="middle" fill="#989896" stroke="#989896" stroke-width="0.15">26</text>
<text x="745.3" y="455.0" font-size="11.6" text-anchor="middle" fill="#989896" stroke="#989896" stroke-width="0.15">16th</text>
<text x="449.6" y="487.0" font-size="11.8" fill="#1e1e1e" stroke="#1e1e1e" stroke-width="0.2">Total progressive passes</text>
<text x="671" y="487.0" font-size="11.6" text-anchor="middle" fill="#989896" stroke="#989896" stroke-width="0.15">3</text>
<text x="745.3" y="487.0" font-size="11.6" text-anchor="middle" fill="#989896" stroke="#989896" stroke-width="0.15">5th</text>
<text x="449.6" y="519.9" font-size="11.8" fill="#1e1e1e" stroke="#1e1e1e" stroke-width="0.2">Total carries</text>
<text x="671" y="519.9" font-size="11.6" text-anchor="middle" fill="#989896" stroke="#989896" stroke-width="0.15">16</text>
<text x="745.3" y="519.9" font-size="11.6" text-anchor="middle" fill="#989896" stroke="#989896" stroke-width="0.15">8th</text>
<text x="449.6" y="552.1" font-size="11.8" fill="#1e1e1e" stroke="#1e1e1e" stroke-width="0.2">Total progressive carries</text>
<text x="671" y="552.1" font-size="11.6" text-anchor="middle" fill="#989896" stroke="#989896" stroke-width="0.15">6</text>
<text x="745.3" y="552.1" font-size="11.6" text-anchor="middle" fill="#989896" stroke="#989896" stroke-width="0.15">1st</text>
<text x="449.6" y="585.0" font-size="11.8" fill="#1e1e1e" stroke="#1e1e1e" stroke-width="0.2">Total defensive actions</text>
<text x="671" y="585.0" font-size="11.6" text-anchor="middle" fill="#989896" stroke="#989896" stroke-width="0.15">6</text>
<text x="745.3" y="585.0" font-size="11.6" text-anchor="middle" fill="#989896" stroke="#989896" stroke-width="0.15">9th</text>
<text x="449.6" y="617.9" font-size="11.8" fill="#1e1e1e" stroke="#1e1e1e" stroke-width="0.3">Involvements in attacking sequences</text>
<text x="671" y="617.9" font-size="11.6" text-anchor="middle" fill="#989896" stroke="#989896" stroke-width="0.15">3</text>
<text x="745.3" y="617.9" font-size="11.6" text-anchor="middle" fill="#989896" stroke="#989896" stroke-width="0.15">5th</text>
<text x="449.6" y="650.1" font-size="11.8" fill="#1e1e1e" stroke="#1e1e1e" stroke-width="0.3">Involvements in build-up</text>
<text x="671" y="650.1" font-size="11.6" text-anchor="middle" fill="#989896" stroke="#989896" stroke-width="0.15">12</text>
<text x="745.3" y="650.1" font-size="11.6" text-anchor="middle" fill="#989896" stroke="#989896" stroke-width="0.15">9th</text>
<g stroke="#8c8c8a" fill="none"><path d="M790.3 543.4 L794.3 547 M798.9 543.4 L794.9 547" stroke-width="1.5"/><circle cx="794.6" cy="549.3" r="2.5" stroke-width="1.4"/></g>
<!--/TABLE-->
<!--LEGEND-->
<text x="172.2" y="700.9" font-size="9.6" fill="#9c9c9a" textLength="19.7" lengthAdjust="spacingAndGlyphs">Pass</text>
<line x1="196" y1="698" x2="209" y2="698" stroke="#929290" stroke-width="1.7"/><path d="M214 698 L208 695 L208 701 Z" fill="#929290"/>
<text x="239.2" y="700.9" font-size="9.6" fill="#9c9c9a" textLength="24.5" lengthAdjust="spacingAndGlyphs">Carry</text>
<circle cx="266.6" cy="698" r="0.9" fill="#929290"/><circle cx="273.6" cy="698" r="0.9" fill="#929290"/><path d="M285 698 L279 695.2 L280.6 698 L279 700.8 Z" fill="#929290"/>
<text x="303.6" y="700.9" font-size="9.6" fill="#9c9c9a" textLength="36" lengthAdjust="spacingAndGlyphs">Take-on</text>
<polygon points="347.60,692.40 349.07,696.28 353.21,696.48 349.98,699.07 351.07,703.07 347.60,700.80 344.13,703.07 345.22,699.07 341.99,696.48 346.13,696.28" fill="#8f8f8d"/>
<text x="379.4" y="700.9" font-size="9.6" fill="#9c9c9a" textLength="74.5" lengthAdjust="spacingAndGlyphs">Defensive action</text>
<path d="M461.8 693 L466.1 694.6 C466.1 699.5 464.1 702 461.8 703.2 C459.5 702 457.5 699.5 457.5 694.6 Z" fill="#fbfbf8" stroke="#8f8f8d" stroke-width="1.1"/>
<path d="M461.8 693 L461.8 703.2 C459.5 702 457.5 699.5 457.5 694.6 Z" fill="#8f8f8d"/>
<text x="502.2" y="700.9" font-size="9.6" fill="#9c9c9a" textLength="19.7" lengthAdjust="spacingAndGlyphs">Shot</text>
<circle cx="529.8" cy="698.2" r="4.6" fill="#fbfbf8" stroke="#959593" stroke-width="1.1"/>
<text x="562.9" y="700.9" font-size="9.6" fill="#8c2c45" textLength="19.7" lengthAdjust="spacingAndGlyphs">Goal</text>
<circle cx="590.6" cy="698.2" r="4.5" fill="#97334c" stroke="#b9a0a6" stroke-width="1.1"/>
<text x="629" y="700.9" font-size="9.6" fill="#f4a52a" textLength="27" lengthAdjust="spacingAndGlyphs">Assist</text>
<line x1="660" y1="698" x2="673" y2="698" stroke="#f4a52a" stroke-width="1.8"/><path d="M678.4 698 L672.2 695 L672.2 701 Z" fill="#f4a52a"/>
<text class="serif" x="745.3" y="706.3" font-size="12.9" fill="#161616" textLength="74.6" lengthAdjust="spacingAndGlyphs" stroke="#161616" stroke-width="0.45">The Athletic</text>
<text class="serif" x="45.8" y="674" font-size="11.2" fill="#9e9e9c" stroke="#9e9e9c" stroke-width="0.3" textLength="117.2" lengthAdjust="spacingAndGlyphs">Pass completion = 75%</text>
<text class="serif" x="257.5" y="674" font-size="11.2" fill="#9e9e9c" stroke="#9e9e9c" stroke-width="0.3" textLength="139.2" lengthAdjust="spacingAndGlyphs">Avg. pass length = 15 yards</text>
<!--/LEGEND-->
</svg></body></html>
